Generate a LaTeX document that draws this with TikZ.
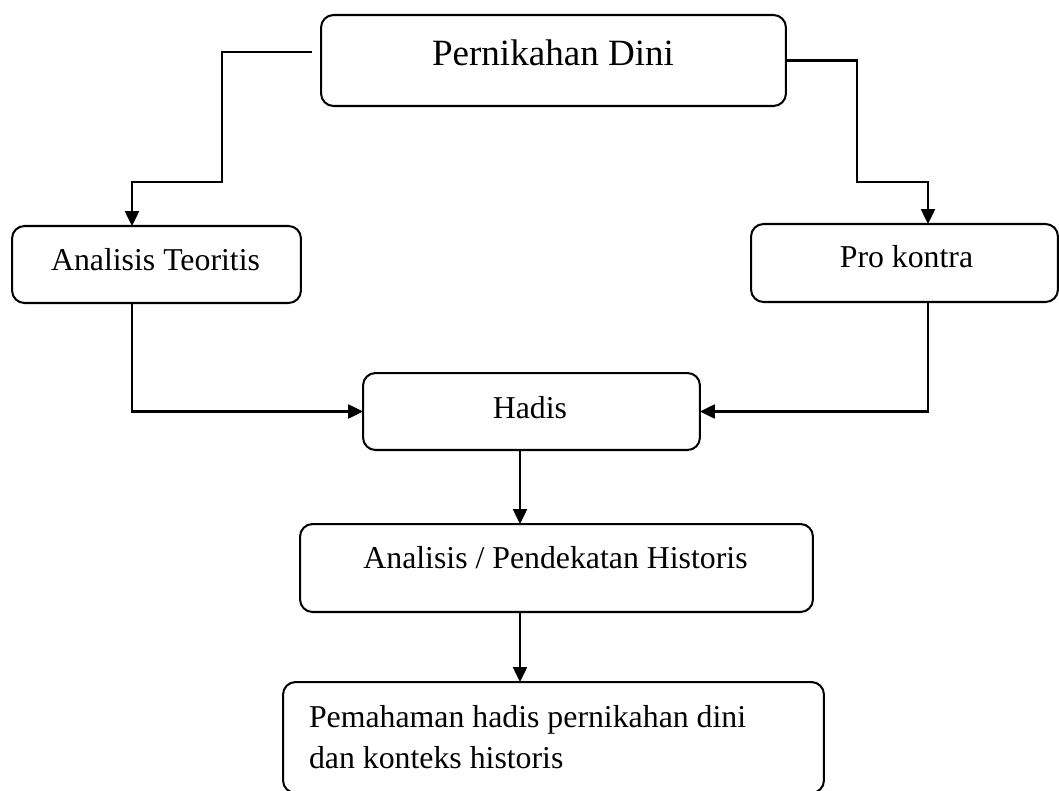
\documentclass[tikz,border=0pt]{standalone}
\usepackage{fontspec}
\setmainfont{Liberation Serif}
\usetikzlibrary{arrows.meta,positioning}

\begin{document}
\begin{tikzpicture}[x=0.02cm, y=-0.02cm, >={Triangle[length=8.5pt,width=8pt]}, line width=1.15pt]

    \tikzstyle{kotak} = [rectangle, rounded corners=0.25cm, draw=black, inner sep=0pt, outer sep=0pt]
    \tikzstyle{teks} = [inner sep=0pt, anchor=base, font=\fontsize{18.1}{23.3}\selectfont]

    \useasboundingbox (0,0) rectangle (1059,791);

    % kotak
    \node (nikah)  [kotak, minimum width=9.30cm,  minimum height=1.82cm] at (553.5,60.5) {};
    \node (teori)  [kotak, minimum width=5.78cm,  minimum height=1.54cm] at (156.5,264.5) {};
    \node (prokon) [kotak, minimum width=6.14cm,  minimum height=1.56cm] at (904.5,263) {};
    \node (hadis)  [kotak, minimum width=6.74cm,  minimum height=1.54cm] at (531.5,411.5) {};
    \node (histo)  [kotak, minimum width=10.26cm, minimum height=1.76cm] at (556.5,568) {};
    \node (paham)  [kotak, minimum width=10.82cm, minimum height=2.22cm] at (553.5,737.5) {};

    % teks
    \node (nikahT)  [teks, font=\fontsize{21.1}{25}\selectfont] at (553,65)  {Pernikahan Dini};
    \node (teoriT)  [teks] at (155.5,270) {Analisis Teoritis};
    \node (prokonT) [teks] at (906.5,267) {Pro kontra};
    \node (hadisT)  [teks] at (530,418)   {Hadis};
    \node (histoT)  [teks] at (555.5,568) {Analisis / Pendekatan Historis};
    \node (pahamT)  [teks, anchor=base west, align=left] at (308,768) {Pemahaman hadis pernikahan dini\\dan konteks historis};

    \coordinate (kiri) at (312,52);

    % panah
    \draw[->] (kiri) -- (222,52) -- (222,182) -- (132,182) -- (132,0 |- teori.north);
    \draw[->] (nikah.east) -- (857,0 |- nikah.east) -- (857,182) -- (928,182) -- (928,0 |- prokon.north);
    \draw[->] (teori.south -| 132,0) |- (hadis.west);
    \draw[->] (prokon.south -| 928,0) |- (hadis.east);
    \draw[->] (hadis.south -| 520,0) -- (histo.north -| 520,0);
    \draw[->] (histo.south -| 520,0) -- (paham.north -| 520,0);
\end{tikzpicture}
\end{document}
